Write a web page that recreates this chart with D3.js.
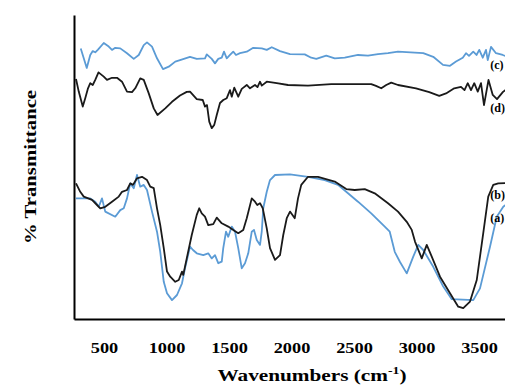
<!DOCTYPE html>
<html>
<head>
<meta charset="utf-8">
<script src="https://cdn.jsdelivr.net/npm/d3@7"></script>
<style>
  body { margin: 0; background: #fff; }
  svg { display: block; }
  .tick text { font-family: "Liberation Serif", "Times New Roman", Times, serif; font-weight: bold; }
  .title { font-family: "Liberation Serif", "Times New Roman", Times, serif; font-weight: bold; fill: #000; }
</style>
</head>
<body>
<div id="chart"></div>
<script>
// FTIR spectra, [wavenumber, %T]
const curveA = [[276,40.2],[390,40.2],[430,39.1],[458,37.4],[484,40.2],[510,35.8],[590,34.1],[630,36.3],[658,36.9],[684,40.2],[710,45.2],[738,43.6],[764,48.0],[790,44.1],[818,44.7],[844,43.0],[884,35.8],[924,29.1],[950,22.4],[978,12.4],[1004,8.6],[1044,6.3],[1084,8.0],[1124,11.9],[1148,16.9],[1188,24.1],[1212,23.0],[1242,21.9],[1294,21.3],[1334,21.9],[1362,20.2],[1388,21.3],[1414,18.6],[1442,19.1],[1454,23.6],[1476,29.1],[1494,27.4],[1522,30.8],[1548,29.1],[1574,23.6],[1602,16.9],[1628,18.6],[1654,21.9],[1682,29.1],[1700,29.7],[1722,26.3],[1748,24.7],[1762,29.1],[1774,36.9],[1802,42.4],[1828,46.3],[1868,48.0],[1988,48.2],[2132,47.4],[2266,46.3],[2372,44.7],[2452,41.9],[2532,39.1],[2638,35.2],[2746,30.8],[2786,29.1],[2826,22.4],[2868,19.0],[2922,15.2],[2974,20.8],[3014,24.7],[3054,23.0],[3134,17.4],[3214,10.8],[3282,6.6],[3454,6.3],[3508,10.2],[3588,24.1],[3642,34.1],[3694,37.4],[3732,38.7]];

const curveB = [[276,45.2],[310,42.4],[338,40.8],[404,39.7],[444,38.0],[470,36.9],[510,37.4],[564,39.1],[618,40.8],[644,42.4],[684,43.0],[710,45.2],[732,44.7],[764,46.9],[804,47.4],[844,46.3],[870,44.1],[898,43.6],[924,36.9],[950,31.3],[978,23.6],[1004,15.8],[1030,14.1],[1070,12.4],[1098,13.0],[1124,15.8],[1134,14.7],[1162,20.2],[1202,28.0],[1242,34.7],[1262,36.9],[1282,35.2],[1308,34.1],[1334,31.3],[1374,31.6],[1402,33.8],[1442,31.9],[1494,30.8],[1534,29.7],[1574,28.6],[1614,29.7],[1642,33.6],[1682,40.2],[1708,39.1],[1726,38.0],[1748,38.6],[1770,36.9],[1802,30.2],[1828,23.6],[1868,19.7],[1908,21.3],[1934,28.0],[1962,33.6],[1988,35.8],[2026,33.6],[2052,40.2],[2078,44.7],[2132,47.4],[2212,47.4],[2346,45.8],[2438,43.3],[2506,43.0],[2586,43.3],[2666,41.9],[2772,38.6],[2852,35.8],[2922,32.4],[2962,29.7],[2988,25.8],[3042,20.2],[3082,24.7],[3122,20.8],[3188,14.1],[3268,8.6],[3334,4.1],[3374,3.6],[3428,5.8],[3482,13.0],[3534,28.6],[3574,40.8],[3614,44.7],[3654,45.2],[3732,45.3]];

const curveC = [[314,90.2],[362,83.7],[390,88.0],[410,89.3],[430,88.9],[452,89.8],[498,92.0],[538,90.8],[564,89.7],[590,90.4],[630,90.2],[684,88.6],[738,86.7],[778,88.0],[818,91.3],[844,92.2],[884,90.8],[924,86.9],[972,83.3],[1018,84.1],[1070,85.8],[1108,86.3],[1188,87.4],[1242,86.7],[1308,86.9],[1322,88.2],[1362,86.7],[1388,85.2],[1414,86.7],[1442,87.1],[1460,89.1],[1482,86.9],[1508,88.0],[1534,89.1],[1556,88.0],[1588,88.6],[1642,89.1],[1694,90.4],[1762,90.2],[1802,89.7],[1842,90.6],[1908,89.3],[1988,88.3],[2106,88.2],[2158,87.1],[2198,86.7],[2278,87.8],[2346,86.9],[2426,87.1],[2532,88.0],[2612,87.8],[2692,88.3],[2772,88.6],[2852,89.1],[3054,88.6],[3134,87.4],[3212,84.7],[3268,84.4],[3316,85.8],[3370,87.1],[3396,88.6],[3420,87.7],[3454,89.1],[3480,88.0],[3502,89.7],[3530,87.1],[3556,89.7],[3570,86.3],[3596,90.7],[3636,88.6],[3690,88.0],[3732,87.3]];

const curveD = [[276,80.0],[298,75.8],[330,70.8],[350,73.6],[372,76.9],[390,78.6],[410,78.0],[430,79.7],[456,82.2],[498,80.8],[524,79.7],[564,80.4],[604,80.4],[644,79.1],[684,75.8],[724,75.6],[750,76.9],[790,80.2],[818,79.7],[858,75.2],[898,70.2],[928,68.0],[990,70.2],[1044,72.4],[1108,74.5],[1162,75.7],[1188,75.8],[1242,73.3],[1290,73.0],[1308,70.8],[1324,71.3],[1342,65.8],[1362,63.6],[1382,64.7],[1402,68.0],[1428,72.0],[1454,73.0],[1482,73.6],[1508,76.3],[1522,74.1],[1542,77.1],[1574,74.1],[1602,76.7],[1642,78.0],[1668,76.9],[1708,78.0],[1728,77.3],[1748,79.1],[1762,77.8],[1802,79.1],[1882,78.6],[1972,78.0],[2132,77.8],[2318,78.3],[2638,78.3],[2676,77.7],[2718,76.9],[2758,78.0],[2798,78.8],[2852,78.0],[2996,76.9],[3102,75.6],[3182,74.4],[3236,75.2],[3302,76.9],[3356,77.4],[3384,76.3],[3410,78.6],[3436,76.3],[3462,78.6],[3490,75.8],[3516,78.6],[3540,71.3],[3576,79.7],[3610,74.7],[3644,73.3],[3692,75.7],[3732,77.0]];

const seriesNames = ['(a)', '(b)', '(c)', '(d)'];
const seriesColors = ['#5b9bd5', '#1a1a1a', '#5b9bd5', '#1a1a1a'];
const labelT = [32.3, 40, 83.3, 69];
const xTicks = [500, 1000, 1500, 2000, 2500, 3000, 3500];

const width = 505, height = 385;
const margin = { top: 15, right: 0, bottom: 66, left: 74 };

const svg = d3.select('#chart').append('svg')
  .attr('width', width)
  .attr('height', height);

const x = d3.scaleLinear()
  .domain([260, 3708])
  .range([margin.left, width - margin.right]);

const y = d3.scaleLinear()
  .domain([0, 101.33])
  .range([height - margin.bottom, margin.top]);

svg.append('clipPath').attr('id', 'clip')
  .append('rect')
  .attr('x', margin.left + 1)
  .attr('y', margin.top)
  .attr('width', width - margin.left)
  .attr('height', height - margin.bottom - margin.top);

const line = d3.line()
  .x(d => x(d[0]))
  .y(d => y(d[1]));

const curves = [curveA, curveB, curveC, curveD];

svg.append('g')
  .attr('clip-path', 'url(#clip)')
  .selectAll('path')
  .data(curves)
  .join('path')
  .attr('d', line)
  .attr('fill', 'none')
  .attr('stroke', (d, i) => seriesColors[i])
  .attr('stroke-width', 1.8)
  .attr('stroke-linejoin', 'round');

// series labels at the right edge
svg.append('g')
  .selectAll('text')
  .data(seriesNames)
  .join('text')
  .attr('class', 'title')
  .attr('x', x(3590))
  .attr('y', (d, i) => y(labelT[i]))
  .attr('font-size', 12)
  .attr('fill', '#222')
  .text(d => d);

// axes
const xAxis = svg.append('g')
  .attr('transform', `translate(0,${height - margin.bottom})`)
  .call(d3.axisBottom(x).tickValues(xTicks).tickSize(0).tickPadding(23).tickFormat(d3.format('d')));
xAxis.select('.domain').attr('stroke', '#000').attr('stroke-width', 2);
xAxis.selectAll('.tick text')
  .attr('font-size', 15)
  .attr('fill', '#000')
  .attr('transform', 'scale(1.22,1)');

const yAxis = svg.append('g')
  .attr('transform', `translate(${margin.left},0)`)
  .call(d3.axisLeft(y).tickValues([]).tickSizeOuter(0));
yAxis.select('.domain').attr('stroke', '#000').attr('stroke-width', 2);

// axis titles
const xt = svg.append('text')
  .attr('class', 'title')
  .attr('text-anchor', 'middle')
  .attr('font-size', 17)
  .attr('transform', 'translate(312,381) scale(1.25,1)');
xt.append('tspan').text('Wavenumbers (cm');
xt.append('tspan').attr('font-size', 11).attr('dy', -7).text('-1');
xt.append('tspan').attr('dy', 7).text(')');

svg.append('text')
  .attr('class', 'title')
  .attr('text-anchor', 'middle')
  .attr('font-size', 17)
  .attr('transform', 'translate(36,167) rotate(-90) scale(1.22,1)')
  .text('% Transmittance');
</script>
</body>
</html>
